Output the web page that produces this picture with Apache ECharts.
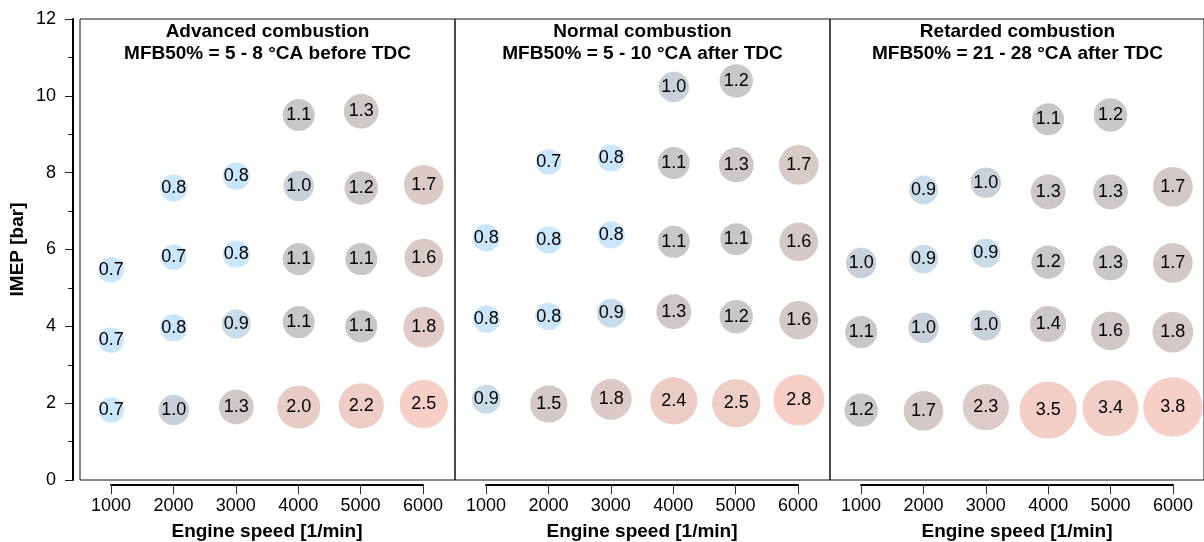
<!DOCTYPE html>
<html>
<head>
<meta charset="utf-8">
<script src="https://cdn.jsdelivr.net/npm/echarts@6/dist/echarts.min.js"></script>
<style>
  html, body { margin: 0; padding: 0; background: #fff; }
  #chart { width: 1204px; height: 542px; }
</style>
</head>
<body>
<div id="chart"></div>
<script>
// Operating points: [engine speed 1/min, IMEP bar, value]
const advanced = [
  [1000, 5.47, 0.7], [1000, 3.64, 0.7], [1000, 1.82, 0.7],
  [2000, 7.60, 0.8], [2000, 5.80, 0.7], [2000, 3.96, 0.8], [2000, 1.82, 1.0],
  [3000, 7.91, 0.8], [3000, 5.88, 0.8], [3000, 4.06, 0.9], [3000, 1.90, 1.3],
  [4000, 9.50, 1.1], [4000, 7.65, 1.0], [4000, 5.75, 1.1], [4000, 4.11, 1.1], [4000, 1.90, 2.0],
  [5000, 9.60, 1.3], [5000, 7.60, 1.2], [5000, 5.75, 1.1], [5000, 4.00, 1.1], [5000, 1.93, 2.2],
  [6000, 7.68, 1.7], [6000, 5.78, 1.6], [6000, 3.98, 1.8], [6000, 1.98, 2.5]
];
const normal = [
  [1000, 6.30, 0.8], [1000, 4.19, 0.8], [1000, 2.10, 0.9],
  [2000, 8.28, 0.7], [2000, 6.25, 0.8], [2000, 4.25, 0.8], [2000, 1.98, 1.5],
  [3000, 8.38, 0.8], [3000, 6.38, 0.8], [3000, 4.34, 0.9], [3000, 2.10, 1.8],
  [4000, 10.23, 1.0], [4000, 8.25, 1.1], [4000, 6.20, 1.1], [4000, 4.38, 1.3], [4000, 2.06, 2.4],
  [5000, 10.39, 1.2], [5000, 8.20, 1.3], [5000, 6.27, 1.1], [5000, 4.25, 1.2], [5000, 2.00, 2.5],
  [6000, 8.20, 1.7], [6000, 6.20, 1.6], [6000, 4.16, 1.6], [6000, 2.08, 2.8]
];
const retarded = [
  [1000, 5.65, 1.0], [1000, 3.85, 1.1], [1000, 1.82, 1.2],
  [2000, 7.55, 0.9], [2000, 5.75, 0.9], [2000, 3.96, 1.0], [2000, 1.80, 1.7],
  [3000, 7.74, 1.0], [3000, 5.90, 0.9], [3000, 4.03, 1.0], [3000, 1.90, 2.3],
  [4000, 9.39, 1.1], [4000, 7.50, 1.3], [4000, 5.67, 1.2], [4000, 4.06, 1.4], [4000, 1.82, 3.5],
  [5000, 9.50, 1.2], [5000, 7.50, 1.3], [5000, 5.65, 1.3], [5000, 3.88, 1.6], [5000, 1.87, 3.4],
  [6000, 7.63, 1.7], [6000, 5.65, 1.7], [6000, 3.85, 1.8], [6000, 1.90, 3.8]
];
const panelTitles = [
  'Advanced combustion\nMFB50% = 5 - 8 °CA before TDC',
  'Normal combustion\nMFB50% = 5 - 10 °CA after TDC',
  'Retarded combustion\nMFB50% = 21 - 28 °CA after TDC'
];
const xAxisName = 'Engine speed [1/min]';
const yAxisName = 'IMEP [bar]';

const panels = [advanced, normal, retarded];
const FONT = "'Liberation Sans', Arial, sans-serif";

// three-point colour scale: blue (0.8 and below) -> grey (median of all points) -> rose (panel maximum)
const allValues = panels.flat().map(p => p[2]).sort((a, b) => a - b);
const blueVal = 0.8;
const midVal = allValues[Math.floor(allValues.length / 2)];
const BLUE = [202, 230, 252], GREY = [199, 199, 199], ROSE = [248, 207, 198];
function mix(a, b, t) {
  t = Math.max(0, Math.min(1, t));
  return 'rgb(' + a.map((c, i) => Math.round(c + (b[i] - c) * t)).join(',') + ')';
}
function shade(v, panelMax) {
  if (v <= midVal) return mix(BLUE, GREY, (v - blueVal) / (midVal - blueVal));
  return mix(GREY, ROSE, (v - midVal) / (panelMax - midVal));
}

// panel geometry
const PANEL_LEFT = [80, 455, 830];
const PANEL_W = 375;
const PLOT_TOP = 19, PLOT_H = 461;

const grid = [], xAxis = [], yAxis = [], series = [], graphic = [];

panels.forEach((pts, i) => {
  const panelMax = Math.max(...pts.map(p => p[2]));
  // bubble panel
  grid.push({ left: PANEL_LEFT[i], top: PLOT_TOP, width: PANEL_W, height: PLOT_H,
    show: true, borderColor: '#111', borderWidth: 1, backgroundColor: 'transparent' });
  xAxis.push({ gridIndex: i, type: 'value', min: 500, max: 6500, show: false });
  yAxis.push(i === 0 ? {
    gridIndex: 0, type: 'value', min: 0, max: 12, interval: 2, offset: 7,
    axisLine: { show: true, lineStyle: { color: '#000', width: 2 } },
    axisTick: { show: true, inside: false, length: 8, lineStyle: { color: '#222', width: 1 } },
    minorTick: { show: true, splitNumber: 2, length: 5, lineStyle: { color: '#222', width: 1 } },
    splitLine: { show: false },
    axisLabel: { color: '#000', fontSize: 18, fontFamily: FONT, margin: 17 },
    name: yAxisName, nameLocation: 'middle', nameGap: 46,
    nameTextStyle: { color: '#000', fontSize: 19, fontWeight: 'bold', fontFamily: FONT }
  } : { gridIndex: i, type: 'value', min: 0, max: 12, show: false });

  series.push({
    type: 'scatter', xAxisIndex: i, yAxisIndex: i,
    data: pts,
    symbol: 'circle',
    symbolSize: d => 30.5 * Math.sqrt(d[2]),
    itemStyle: { opacity: 1, color: p => shade(p.value[2], panelMax) },
    label: { show: true, position: 'inside', color: '#000', fontSize: 18, fontFamily: FONT,
      formatter: p => p.value[2].toFixed(1) },
    emphasis: { disabled: true },
    z: 3
  });

  graphic.push({
    type: 'text', x: PANEL_LEFT[i] + PANEL_W / 2, y: 21,
    style: { text: panelTitles[i], align: 'center', verticalAlign: 'top',
      font: "bold 19px 'Liberation Sans', Arial, sans-serif", lineHeight: 22, fill: '#000' }
  });
});

// engine speed axes, drawn under each panel from 1000 to 6000
panels.forEach((pts, i) => {
  const g = 3 + i;
  grid.push({ left: PANEL_LEFT[i] + 31, top: 484, width: 312, height: 1, show: false });
  xAxis.push({
    gridIndex: g, type: 'value', min: 1000, max: 6000, interval: 1000, position: 'bottom',
    axisLine: { show: true, lineStyle: { color: '#000', width: 2 } },
    axisTick: { show: true, inside: false, length: 10, lineStyle: { color: '#333', width: 1 } },
    splitLine: { show: false },
    axisLabel: { color: '#000', fontSize: 18, fontFamily: FONT, margin: 13,
      formatter: v => String(v) },
    name: xAxisName, nameLocation: 'middle', nameGap: 38,
    nameTextStyle: { color: '#000', fontSize: 19, fontWeight: 'bold', fontFamily: FONT }
  });
  yAxis.push({ gridIndex: g, type: 'value', min: 0, max: 1, show: false });
});

const chart = echarts.init(document.getElementById('chart'), null, { renderer: 'canvas' });
chart.setOption({
  animation: false,
  backgroundColor: '#fff',
  textStyle: { fontFamily: FONT },
  grid, xAxis, yAxis, series, graphic
});
</script>
</body>
</html>
